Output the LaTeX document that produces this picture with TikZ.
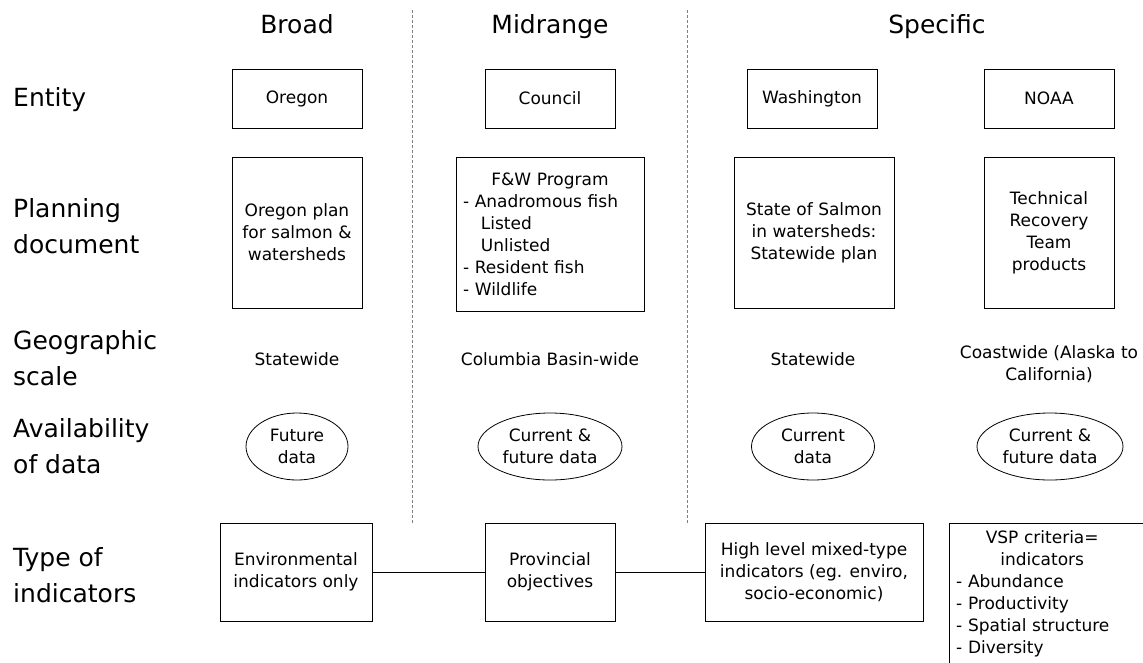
\documentclass[tikz,border=0pt]{standalone}
\usepackage{fontspec}
\setmainfont{DejaVu Sans}
\usetikzlibrary{positioning, shapes.geometric}

\begin{document}
\begin{tikzpicture}[x=1pt, y=-1pt,
  small/.style={font=\fontsize{17}{22}\selectfont, align=center},
  head/.style={font=\fontsize{25}{30}\selectfont, anchor=base},
  rowlabel/.style={font=\fontsize{25}{36}\selectfont, align=left, anchor=west, inner sep=0pt},
  box/.style={small, draw, line width=0.8pt, inner sep=0pt, minimum height=#1},
  box/.default=59pt,
  oval/.style={small, draw, ellipse, line width=0.8pt, inner sep=0pt, minimum height=67pt},
  sep/.style={draw=gray, line width=0.7pt, dash pattern=on 3pt off 2pt},
  link/.style={line width=0.8pt},
]
  \useasboundingbox (0,0) rectangle (1143,662);

  % column heads
  \node[head] (broad) at (297,33) {Broad};
  \node[head] (mid)   at (550,33) {Midrange};
  \node[head] (spec)  at (937,33) {Specific};

  % separators
  \coordinate (s1top) at (412.5,10);
  \coordinate (s1bot) at (412.5,523);
  \coordinate (s2top) at (687.5,10);
  \coordinate (s2bot) at (687.5,523);
  \draw[sep] (s1top) -- (s1bot);
  \draw[sep] (s2top) -- (s2bot);

  % row labels
  \node[rowlabel] (lentity) at (13,100)   {Entity};
  \node[rowlabel] (lplan)   at (13,226.5) {Planning\\document};
  \node[rowlabel] (lgeo)    at (13,358)   {Geographic\\scale};
  \node[rowlabel] (lavail)  at (13,446)   {Availability\\of data};
  \node[rowlabel] (ltype)   at (13,575.5) {Type of\\indicators};

  % entity
  \node[box, minimum width=130pt] (oregon) at (297,98.5)  {Oregon};
  \node[box, minimum width=130pt] (council) at (550,98.5) {Council};
  \node[box, minimum width=130pt] (wash) at (812,98.5)    {Washington};
  \node[box, minimum width=130pt] (noaa) at (1049,98.5)   {NOAA};

  % planning document
  \node[box=151pt, minimum width=130pt] (orplan) at (297,232.5)
    {Oregon plan\\for salmon \&\\watersheds};
  \node[box=154pt, minimum width=188pt, align=left, text width=174pt] (fwplan) at (550,234)
    {\makebox[\linewidth]{F\&W Program}\\
     - Anadromous fish\\
     \hspace*{1.05em}Listed\\
     \hspace*{1.05em}Unlisted\\
     - Resident fish\\
     - Wildlife};
  \node[box=151pt, minimum width=160pt] (waplan) at (814,232.5)
    {State of Salmon\\in watersheds:\\Statewide plan};
  \node[box=151pt, minimum width=130pt] (noplan) at (1049,232.5)
    {Technical\\Recovery\\Team\\products};

  % geographic scale
  \node[small] (orgeo) at (297,359)  {Statewide};
  \node[small] (cogeo) at (550,359)  {Columbia Basin-wide};
  \node[small] (wageo) at (813,359)  {Statewide};
  \node[small] (nogeo) at (1049,364) {Coastwide (Alaska to\\California)};

  % availability of data
  \node[oval, minimum width=102pt] (ordata) at (297,446.5)  {Future\\data};
  \node[oval, minimum width=144pt] (codata) at (550,446.5)  {Current \&\\future data};
  \node[oval, minimum width=123pt] (wadata) at (813,446.5)  {Current\\data};
  \node[oval, minimum width=146pt] (nodata) at (1050,446.5) {Current \&\\future data};

  % type of indicators
  \node[box=98pt, minimum width=152pt] (envind) at (296,572)
    {Environmental\\indicators only};
  \node[box=98pt, minimum width=130pt] (provobj) at (550,572)
    {Provincial\\objectives};
  \node[box=98pt, minimum width=218pt] (mixind) at (814,572)
    {High level mixed-type\\indicators (eg. enviro,\\socio-economic)};
  \node[small, align=left, text width=172pt, inner xsep=7pt, inner ysep=0pt,
        minimum height=141pt, anchor=north west] (vsp) at (949,523)
    {\makebox[\linewidth]{VSP criteria=}\\
     \makebox[\linewidth]{indicators}\\
     - Abundance\\
     - Productivity\\
     - Spatial structure\\
     - Diversity};
  \draw[link] (vsp.north west |- 0,670) -- (vsp.north west) -- (vsp.north west -| 1150,0);

  \draw[link] (envind) -- (provobj);
  \draw[link] (provobj) -- (mixind);
\end{tikzpicture}
\end{document}
